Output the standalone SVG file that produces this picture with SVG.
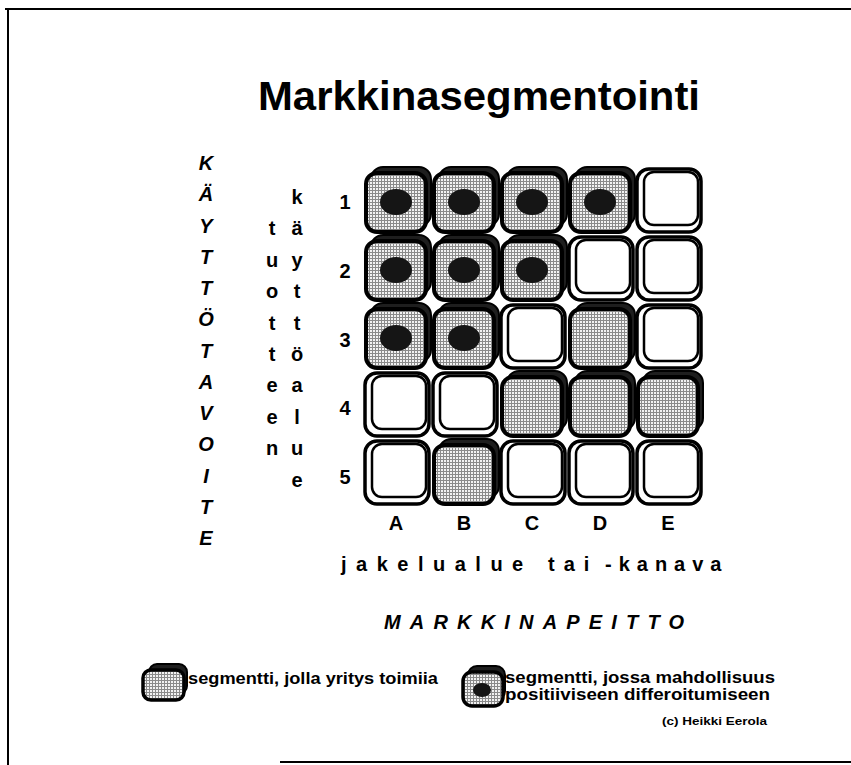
<svg xmlns="http://www.w3.org/2000/svg" xmlns:xlink="http://www.w3.org/1999/xlink" width="851" height="765" viewBox="0 0 851 765">
<style>
.lbl{font-family:"Liberation Sans",Arial,sans-serif;font-weight:bold;fill:#000}
.it{font-style:italic}
.c{text-anchor:middle}
.frame{stroke:#000;stroke-width:2;fill:none}
</style>
<defs>
<pattern id="ht" width="3" height="3" patternUnits="userSpaceOnUse">
<rect width="3" height="3" fill="#8a8a8a"/>
<rect width="2" height="2" fill="#f2f2f2"/>
</pattern>
<g id="gc">
<rect x="7" y="0" width="60" height="59" rx="12" fill="#1e1e1e" stroke="#000" stroke-width="2"/>
<rect x="2" y="6" width="60" height="59" rx="11" fill="url(#ht)" stroke="#000" stroke-width="4"/>
</g>
<g id="dc">
<use xlink:href="#gc"/>
<ellipse cx="32" cy="35" rx="16" ry="13" fill="#151515"/>
</g>
<g id="wc">
<rect x="1" y="2" width="64" height="63" rx="12" fill="#fff" stroke="#000" stroke-width="3.5"/>
<rect x="8" y="5" width="54" height="53" rx="10" fill="none" stroke="#000" stroke-width="2.5"/>
</g>
</defs>
<rect width="851" height="765" fill="#fff"/>
<g id="frame">
<line class="frame" x1="5" y1="9" x2="851" y2="9"/>
<line class="frame" x1="8" y1="8" x2="8" y2="765"/>
<line class="frame" x1="280" y1="762" x2="851" y2="762"/>
</g>
<g id="title"><text class="lbl c" x="479" y="110" font-size="40" textLength="442" lengthAdjust="spacingAndGlyphs" style="font-family:'Liberation Sans Narrow','Liberation Sans',sans-serif">Markkinasegmentointi</text></g>
<g id="axis-kayttotavoite" class="lbl it c" font-size="20">
<text x="206" y="170">K</text><text x="206" y="201">Ä</text><text x="206" y="233">Y</text><text x="206" y="264">T</text><text x="206" y="295">T</text><text x="206" y="326">Ö</text><text x="206" y="358">T</text><text x="206" y="389">A</text><text x="206" y="420">V</text><text x="206" y="451">O</text><text x="206" y="483">I</text><text x="206" y="514">T</text><text x="206" y="545">E</text>
</g>
<g id="axis-tuotteen" class="lbl c" font-size="20">
<text x="272" y="235">t</text><text x="272" y="267">u</text><text x="272" y="298">o</text><text x="272" y="330">t</text><text x="272" y="361">t</text><text x="272" y="392">e</text><text x="272" y="424">e</text><text x="272" y="455">n</text>
</g>
<g id="axis-kayttoalue" class="lbl c" font-size="20">
<text x="297" y="204">k</text><text x="297" y="235">ä</text><text x="297" y="267">y</text><text x="297" y="298">t</text><text x="297" y="330">t</text><text x="297" y="361">ö</text><text x="297" y="392">a</text><text x="297" y="424">l</text><text x="297" y="455">u</text><text x="297" y="487">e</text>
</g>
<g id="row-numbers" class="lbl c" font-size="20">
<text x="345" y="209">1</text><text x="345" y="278">2</text><text x="345" y="347">3</text><text x="345" y="415">4</text><text x="345" y="484">5</text>
</g>
<g id="col-letters" class="lbl c" font-size="20">
<text x="396" y="530">A</text><text x="464" y="530">B</text><text x="532" y="530">C</text><text x="600" y="530">D</text><text x="668" y="530">E</text>
</g>
<g id="cell-A1"><use xlink:href="#dc" x="364" y="167"/></g>
<g id="cell-B1"><use xlink:href="#dc" x="432" y="167"/></g>
<g id="cell-C1"><use xlink:href="#dc" x="500" y="167"/></g>
<g id="cell-D1"><use xlink:href="#dc" x="568" y="167"/></g>
<g id="cell-E1"><use xlink:href="#wc" x="636" y="167"/></g>
<g id="cell-A2"><use xlink:href="#dc" x="364" y="235"/></g>
<g id="cell-B2"><use xlink:href="#dc" x="432" y="235"/></g>
<g id="cell-C2"><use xlink:href="#dc" x="500" y="235"/></g>
<g id="cell-D2"><use xlink:href="#wc" x="568" y="235"/></g>
<g id="cell-E2"><use xlink:href="#wc" x="636" y="235"/></g>
<g id="cell-A3"><use xlink:href="#dc" x="364" y="303"/></g>
<g id="cell-B3"><use xlink:href="#dc" x="432" y="303"/></g>
<g id="cell-C3"><use xlink:href="#wc" x="500" y="303"/></g>
<g id="cell-D3"><use xlink:href="#gc" x="568" y="303"/></g>
<g id="cell-E3"><use xlink:href="#wc" x="636" y="303"/></g>
<g id="cell-A4"><use xlink:href="#wc" x="364" y="371"/></g>
<g id="cell-B4"><use xlink:href="#wc" x="432" y="371"/></g>
<g id="cell-C4"><use xlink:href="#gc" x="500" y="371"/></g>
<g id="cell-D4"><use xlink:href="#gc" x="568" y="371"/></g>
<g id="cell-E4"><use xlink:href="#gc" x="636" y="371"/></g>
<g id="cell-A5"><use xlink:href="#wc" x="364" y="439"/></g>
<g id="cell-B5"><use xlink:href="#gc" x="432" y="439"/></g>
<g id="cell-C5"><use xlink:href="#wc" x="500" y="439"/></g>
<g id="cell-D5"><use xlink:href="#wc" x="568" y="439"/></g>
<g id="cell-E5"><use xlink:href="#wc" x="636" y="439"/></g>
<g id="x-axis-label" class="lbl" font-size="20">
<text x="341" y="571" letter-spacing="9.5">jakelualue</text>
<text x="548" y="571" letter-spacing="9">tai</text>
<text x="605" y="571" letter-spacing="7">-kanava</text>
</g>
<g id="markkinapeitto"><text class="lbl it" x="384" y="629" font-size="20" textLength="300" lengthAdjust="spacing">MARKKINAPEITTO</text></g>
<g id="legend-1">
<rect x="149" y="664" width="38" height="30" rx="8" fill="#1e1e1e" stroke="#000" stroke-width="2"/>
<rect x="143" y="670" width="41" height="30" rx="8" fill="url(#ht)" stroke="#000" stroke-width="3.5"/>
<text class="lbl" x="188" y="684" font-size="17" textLength="250" lengthAdjust="spacingAndGlyphs">segmentti, jolla yritys toimiia</text>
</g>
<g id="legend-2">
<rect x="468" y="666" width="37" height="34" rx="9" fill="#1e1e1e" stroke="#000" stroke-width="2"/>
<rect x="463" y="672" width="40" height="34" rx="9" fill="url(#ht)" stroke="#000" stroke-width="3.5"/>
<ellipse cx="482" cy="690" rx="9" ry="7" fill="#151515"/>
<text class="lbl" x="505" y="683" font-size="16" textLength="270" lengthAdjust="spacingAndGlyphs">segmentti, jossa mahdollisuus</text>
<text class="lbl" x="505" y="700" font-size="16" textLength="265" lengthAdjust="spacingAndGlyphs">positiiviseen differoitumiseen</text>
</g>
<g id="copyright"><text class="lbl" x="662" y="725" font-size="11" textLength="105" lengthAdjust="spacingAndGlyphs">(c) Heikki Eerola</text></g>
</svg>
